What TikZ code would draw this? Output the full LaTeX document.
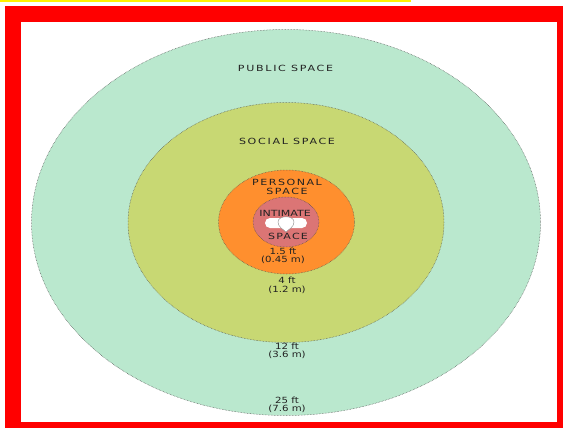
\documentclass[tikz,border=0pt]{standalone}
\usepackage{fontspec}
\setmainfont{DejaVu Sans}
\usetikzlibrary{positioning}
\definecolor{publicgreen}{HTML}{BAE8CE}
\definecolor{socialgreen}{HTML}{C8D873}
\definecolor{personalorange}{HTML}{FF8F2E}
\definecolor{intimatered}{HTML}{DB7575}
\definecolor{labelgray}{HTML}{222222}
\tikzset{
    x=1pt, y=-1pt,
    zoneline/.style = {draw=black!70, densely dotted, line width=0.5pt},
    spacenode/.style = {draw=none, fill=none, inner sep=0pt, font=\fontsize{8.5}{8.5}\selectfont\addfontfeature{FakeStretch=1.3,LetterSpace=#1}, text=labelgray, align=center},
    spacenode/.default = 18,
    distnode/.style = {draw=none, fill=none, inner sep=0pt, font=\fontsize{8.5}{8.5}\selectfont\addfontfeature{FakeStretch=1.2}, text=labelgray, align=center}
}
\begin{document}
\begin{tikzpicture}
    \useasboundingbox (0,0) rectangle (563,428);
    \fill[yellow] (0,0) rectangle (411,2);
    \fill[red] (5,6) rectangle (563,428);
    \fill[white] (21,22) rectangle (557,422);

    % zones from the outside in
    \filldraw[fill=publicgreen, zoneline] (286,222.5) ellipse [x radius=254.5, y radius=193];
    \filldraw[fill=socialgreen, zoneline] (286,222.5) ellipse [x radius=158, y radius=120];
    \filldraw[fill=personalorange, zoneline] (286.5,222) ellipse [x radius=68, y radius=52];
    \filldraw[fill=intimatered, zoneline] (286,222) ellipse [x radius=33, y radius=25];

    % heart in the middle
    \fill[white, rounded corners=5pt] (265,218) rectangle (307,228);
    \filldraw[fill=white, draw=black!45, line width=0.4pt] (278,222) .. controls (278,215) and (294,215) .. (294,222) .. controls (294,227) and (289,229) .. (286,232) .. controls (283,229) and (278,227) .. (278,222);

    \node [name=PUBLIC, spacenode=20] at (285.5,68) {PUBLIC SPACE};
    \node [name=SOCIAL, spacenode=20] at (287,141) {SOCIAL SPACE};
    \node [name=PERSONAL, spacenode] at (287,187) {PERSONAL\\SPACE};
    \node [name=INTIMATE, spacenode=0] at (285,213) {INTIMATE};
    \node [name=INSPACE, spacenode=14] at (288,236) {SPACE};

    \node [name=DISTA, distnode] at (283,256) {1.5 ft\\(0.45 m)};
    \node [name=DISTB, distnode] at (287,285.5) {4 ft\\(1.2 m)};
    \node [name=DISTC, distnode] at (287,351) {12 ft\\(3.6 m)};
    \node [name=DISTD, distnode] at (287,405) {25 ft\\(7.6 m)};
\end{tikzpicture}
\end{document}
